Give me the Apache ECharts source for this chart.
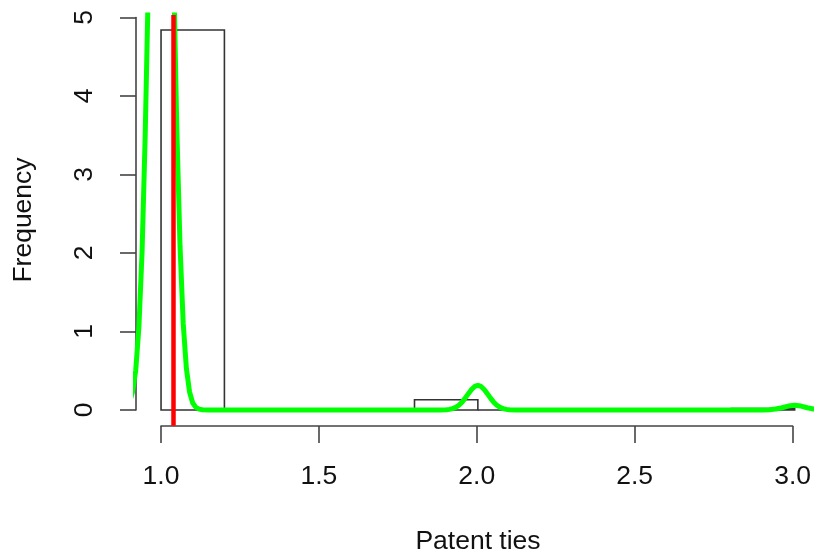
<!DOCTYPE html>
<html>
<head>
<meta charset="utf-8">
<script src="https://cdn.jsdelivr.net/npm/echarts@6/dist/echarts.min.js"></script>
<style>html,body{margin:0;padding:0;background:#fff}#c{width:814px;height:560px}</style>
</head>
<body>
<div id="c"></div>
<script>
// Histogram bins (breaks 1.0 .. 3.0 by 0.2)
const binStart = [1.0, 1.2, 1.4, 1.6, 1.8, 2.0, 2.2, 2.4, 2.6, 2.8];
const binEnd   = [1.2, 1.4, 1.6, 1.8, 2.0, 2.2, 2.4, 2.6, 2.8, 3.0];
const binHeight = [4.84, 0, 0, 0, 0.13, 0, 0, 0, 0, 0.02];

// Density curve
const densX = [0.90,0.91,0.92,0.93,0.94,0.95,0.96,0.97,0.98,0.99,1.00,1.01,1.02,1.03,1.04,1.05,1.06,1.07,1.08,1.09,1.10,1.11,1.12,1.13,1.15,
  1.40,1.70,1.88,1.90,1.91,1.92,1.93,1.94,1.95,1.96,1.97,1.98,1.99,2.00,2.01,2.02,2.03,2.04,2.05,2.06,2.07,2.08,2.09,2.10,2.12,
  2.40,2.70,2.90,2.92,2.94,2.96,2.98,3.00,3.02,3.04,3.06,3.08,3.10];
const densY = [0.09,0.23,0.50,1.05,2.00,3.50,5.45,7.70,9.90,11.46,12.04,11.46,9.90,7.76,5.51,3.55,2.08,1.10,0.53,0.23,0.09,0.033,0.011,0.003,0.0,
  0.0,0.0,0.0,0.003,0.008,0.017,0.033,0.060,0.100,0.151,0.208,0.261,0.300,0.314,0.300,0.261,0.208,0.151,0.100,0.060,0.033,0.017,0.008,0.003,0.0,
  0.0,0.0,0.001,0.003,0.012,0.029,0.050,0.060,0.050,0.029,0.012,0.003,0.001];

// Vertical reference line (mean)
const meanValue = 1.036;

// Tick labels
const xTicks = ['1.0','1.5','2.0','2.5','3.0'];
const yTicks = ['0','1','2','3','4','5'];

const FONT = 'Liberation Sans';
const FS = 26.5;

const histData = binStart.map((s, i) => [s, binEnd[i], binHeight[i]]);
const densData = densX.map((x, i) => [x, densY[i]]);

const chart = echarts.init(document.getElementById('c'));
chart.setOption({
  animation: false,
  backgroundColor: '#fff',
  grid: [
    { left: 135.7, width: 678.3, top: 15, height: 410.7 },
    { left: 161, width: 634, top: 17.5, height: 392.5 }
  ],
  xAxis: [
    { gridIndex: 0, type: 'value', min: 0.92, max: 3.061, show: false },
    { gridIndex: 1, type: 'value', min: 1, max: 3, interval: 0.5, offset: 16,
      axisLine: { show: true, onZero: false, lineStyle: { color: '#444', width: 1.6 } },
      axisTick: { show: true, length: 17, lineStyle: { color: '#444', width: 1.6 } },
      axisLabel: { margin: 37, color: '#111', fontSize: FS, fontFamily: FONT,
        formatter: v => xTicks[Math.round((v - 1) / 0.5)] },
      splitLine: { show: false } }
  ],
  yAxis: [
    { gridIndex: 0, type: 'value', min: -0.2, max: 5.032, show: false },
    { gridIndex: 1, type: 'value', min: 0, max: 5, interval: 1, offset: 25,
      axisLine: { show: true, onZero: false, lineStyle: { color: '#444', width: 1.6 } },
      axisTick: { show: true, length: 16, lineStyle: { color: '#444', width: 1.6 } },
      axisLabel: { margin: 38, rotate: 90, color: '#111', fontSize: FS, fontFamily: FONT,
        formatter: v => yTicks[Math.round(v)] },
      splitLine: { show: false } }
  ],
  graphic: [
    { type: 'text', x: 478, y: 542, style: { text: 'Patent ties', x: 0, y: 0, textAlign: 'center', textVerticalAlign: 'middle', fontSize: FS, fontFamily: FONT, fill: '#111' } },
    { type: 'text', x: 24, y: 220, rotation: Math.PI / 2, style: { text: 'Frequency', x: 0, y: 0, textAlign: 'center', textVerticalAlign: 'middle', fontSize: FS, fontFamily: FONT, fill: '#111' } }
  ],
  series: [
    { type: 'custom', xAxisIndex: 0, yAxisIndex: 0, clip: true, z: 1,
      data: histData,
      encode: { x: [0, 1], y: 2 },
      renderItem: function (params, api) {
        const p0 = api.coord([api.value(0), api.value(2)]);
        const p1 = api.coord([api.value(1), 0]);
        return { type: 'rect',
          shape: { x: p0[0], y: p0[1], width: p1[0] - p0[0], height: p1[1] - p0[1] },
          style: { fill: 'none', stroke: '#333', lineWidth: 1.6 } };
      } },
    { type: 'line', xAxisIndex: 0, yAxisIndex: 0, data: densData, showSymbol: false, symbol: 'none',
      clip: true, z: 2, lineStyle: { color: '#00ff00', width: 5 } },
    { type: 'line', xAxisIndex: 0, yAxisIndex: 0, data: [], z: 3,
      markLine: { silent: true, symbol: 'none', label: { show: false },
        lineStyle: { color: '#ff0000', width: 4.5, type: 'solid' },
        data: [{ xAxis: meanValue }] } }
  ]
});
</script>
</body>
</html>
